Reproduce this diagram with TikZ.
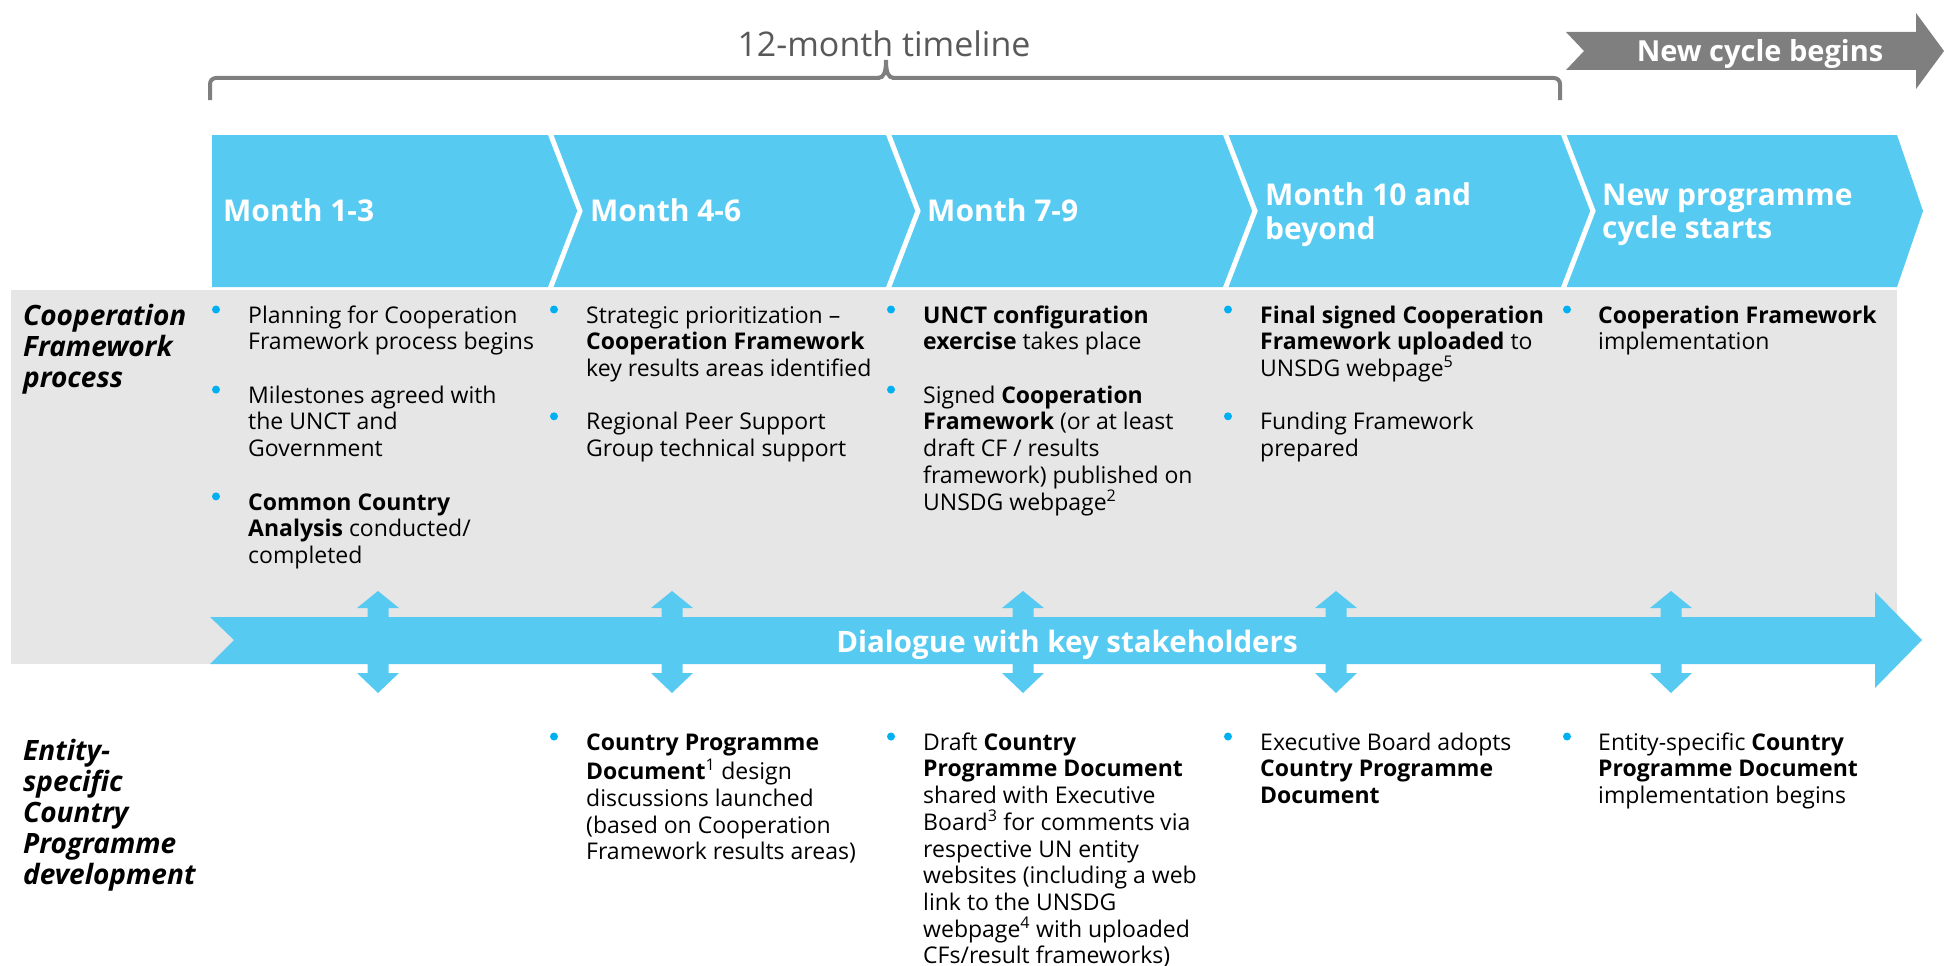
\documentclass[tikz,border=0pt]{standalone}
\usepackage{fontspec}
\setmainfont{Open Sans}
\definecolor{cblue}{HTML}{57CAF1}
\definecolor{cgray}{HTML}{E6E6E6}
\definecolor{dgray}{HTML}{7F7F7F}
\definecolor{tgray}{HTML}{595959}
\definecolor{bul}{HTML}{00B0F0}
\tikzset{
  body/.style={anchor=north west, inner sep=0pt, align=left, text=black,
    font=\fontsize{23}{26.7}\selectfont},
  rowlab/.style={anchor=north west, inner sep=0pt, align=left, text=black,
    font=\fontsize{28}{31}\selectfont\bfseries\itshape},
  monthlab/.style={anchor=north west, inner sep=0pt, align=left, text=white,
    font=\fontsize{30}{31.5}\selectfont\bfseries},
  chev/.style={fill=cblue},
  sep/.style={draw=white, line width=5pt},
}
\newcommand{\bulletdot}[2]{\fill[bul] (#1,#2) circle (4pt);}
\newcommand{\dblarrow}[1]{\fill[cblue] (#1,591) -- ++(21,17) -- ++(-10.5,0) -- ++(0,65) -- ++(10.5,0) -- ++(-21,20) -- ++(-21,-20) -- ++(10.5,0) -- ++(0,-65) -- ++(-10.5,0) -- cycle;}
\begin{document}
\begin{tikzpicture}[x=1pt,y=-1pt]
\useasboundingbox (0,0) rectangle (1944,966);

% bracket
\draw[dgray, line width=4pt, rounded corners=6pt] (210,100) -- (210,78) -- (880,78);
\draw[dgray, line width=4pt] (878,78) .. controls (884,78) and (886,72) .. (886,60);
\draw[dgray, line width=4pt] (894,78) .. controls (888,78) and (886,72) .. (886,60);
\draw[dgray, line width=4pt, rounded corners=6pt] (892,78) -- (1560,78) -- (1560,100);
\node[anchor=base, inner sep=0pt, text=tgray, font=\fontsize{34}{40}\selectfont] (tl) at (884,57) {12-month timeline};

% new cycle arrow
\fill[dgray] (1566,32) -- (1916,32) -- (1916,13) -- (1944,51) -- (1916,89) -- (1916,70) -- (1566,70) -- (1584,51) -- cycle;
\node[anchor=base, inner sep=0pt, text=white, font=\fontsize{29}{32}\selectfont\bfseries] (nc) at (1760,62) {New cycle begins};

% gray band
\fill[cgray] (11,290) rectangle (1897,664);

% chevrons
\fill[chev] (212,135) -- (550,135) -- (580,211) -- (550,287) -- (212,287) -- cycle;
\fill[chev] (550,135) -- (888,135) -- (918,211) -- (888,287) -- (550,287) -- (580,211) -- cycle;
\fill[chev] (888,135) -- (1225,135) -- (1255,211) -- (1225,287) -- (888,287) -- (918,211) -- cycle;
\fill[chev] (1225,135) -- (1563,135) -- (1593,211) -- (1563,287) -- (1225,287) -- (1255,211) -- cycle;
\fill[chev] (1563,135) -- (1897,135) -- (1923,211) -- (1897,287) -- (1563,287) -- (1593,211) -- cycle;
\draw[sep] (550,133) -- (580,211) -- (550,289);
\draw[sep] (888,133) -- (918,211) -- (888,289);
\draw[sep] (1225,133) -- (1255,211) -- (1225,289);
\draw[sep] (1563,133) -- (1593,211) -- (1563,289);

\node[monthlab] (m1) at (223,199) {\strut Month 1-3};
\node[monthlab] (m2) at (590,199) {\strut Month 4-6};
\node[monthlab] (m3) at (927,199) {\strut Month 7-9};
\node[monthlab] (m4) at (1265,183) {\strut Month 10 and\\beyond};
\node[monthlab] (m5) at (1602,183) {\strut New programme\\cycle starts};

% dialogue band
\fill[cblue] (210,617) -- (1875,617) -- (1875,592) -- (1922,640) -- (1875,688) -- (1875,664) -- (210,664) -- (234,640) -- cycle;
\dblarrow{378}
\dblarrow{672}
\dblarrow{1023}
\dblarrow{1336}
\dblarrow{1671}
\node[anchor=base, inner sep=0pt, text=white, font=\fontsize{29.5}{34}\selectfont\bfseries] (dl) at (1067,652) {Dialogue with key stakeholders};

% row labels
\node[rowlab] (r1) at (23,303.3) {\strut Cooperation\\Framework\\process};
\node[rowlab] (r2) at (23,738.3) {\strut Entity-\\specific\\Country\\Programme\\development};

% top row items (baseline 323, pitch 26.7)
\bulletdot{216}{309.5}
\node[body] (a1) at (248,304.3) {\strut Planning for Cooperation\\Framework process begins};
\bulletdot{216}{389.6}
\node[body] (a2) at (248,384.4) {\strut Milestones agreed with\\the UNCT and\\Government};
\bulletdot{216}{496.4}
\node[body] (a3) at (248,491.2) {\strut \textbf{Common Country}\\\textbf{Analysis} conducted/\\completed};

\bulletdot{554}{309.5}
\node[body] (b1) at (586,304.3) {\strut Strategic prioritization –\\\textbf{Cooperation Framework}\\key results areas identified};
\bulletdot{554}{416.3}
\node[body] (b2) at (586,411.1) {\strut Regional Peer Support\\Group technical support};

\bulletdot{891}{309.5}
\node[body] (c1) at (923,304.3) {\strut \textbf{UNCT configuration}\\\textbf{exercise} takes place};
\bulletdot{891}{389.6}
\node[body] (c2) at (923,384.4) {\strut Signed \textbf{Cooperation}\\\textbf{Framework} (or at least\\draft CF / results\\framework) published on\\UNSDG webpage\textsuperscript{2}};

\bulletdot{1228}{309.5}
\node[body] (d1) at (1260,304.3) {\strut \textbf{Final signed Cooperation}\\\textbf{Framework uploaded} to\\UNSDG webpage\textsuperscript{5}};
\bulletdot{1228}{416.3}
\node[body] (d2) at (1260,411.1) {\strut Funding Framework\\prepared};

\bulletdot{1567}{309.5}
\node[body] (e1) at (1598,304.3) {\strut \textbf{Cooperation Framework}\\implementation};

% bottom row items (baseline 750)
\bulletdot{554}{736.5}
\node[body] (f2) at (586,731.3) {\strut \textbf{Country Programme}\\\textbf{Document}\textsuperscript{1} design\\discussions launched\\(based on Cooperation\\Framework results areas)};
\bulletdot{891}{736.5}
\node[body] (f3) at (923,731.3) {\strut Draft \textbf{Country}\\\textbf{Programme Document}\\shared with Executive\\Board\textsuperscript{3} for comments via\\respective UN entity\\websites (including a web\\link to the UNSDG\\webpage\textsuperscript{4} with uploaded\\CFs/result frameworks)};
\bulletdot{1228}{736.5}
\node[body] (f4) at (1260,731.3) {\strut Executive Board adopts\\\textbf{Country Programme}\\\textbf{Document}};
\bulletdot{1567}{736.5}
\node[body] (f5) at (1598,731.3) {\strut Entity-specific \textbf{Country}\\\textbf{Programme Document}\\implementation begins};
\end{tikzpicture}
\end{document}
